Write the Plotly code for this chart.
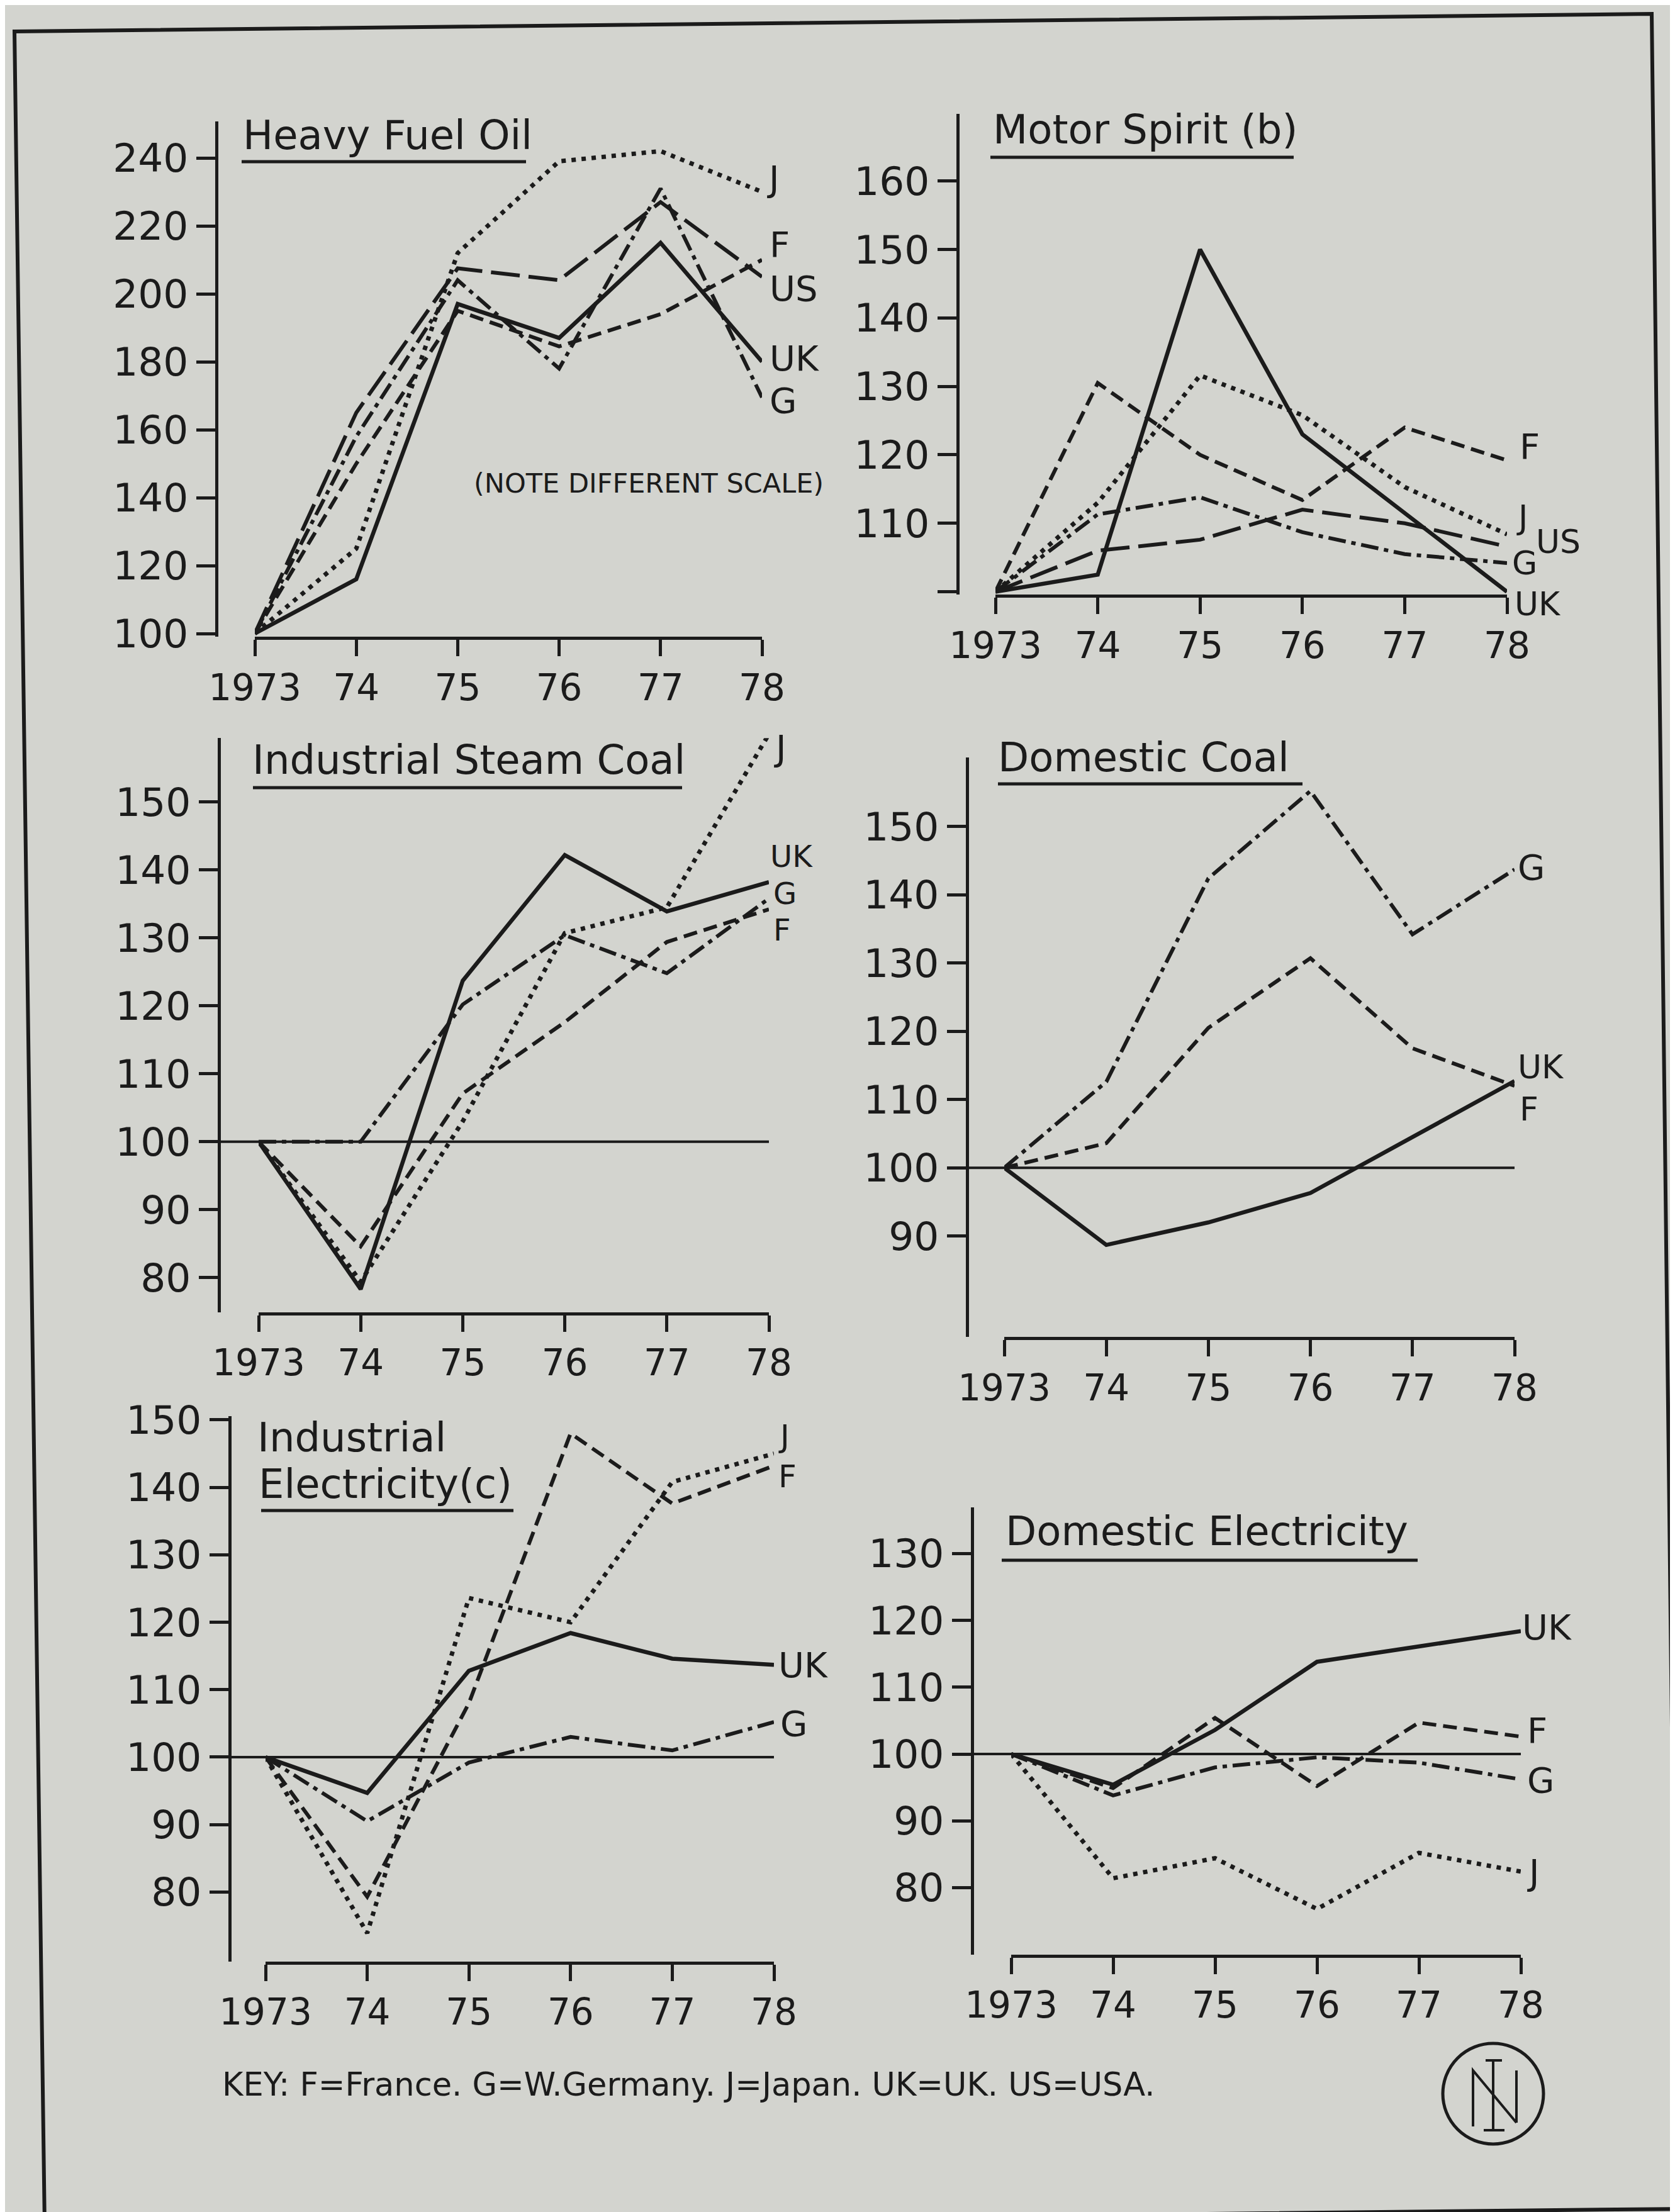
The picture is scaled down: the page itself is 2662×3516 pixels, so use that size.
import plotly.graph_objects as go

W, H = 2662, 3516

# ---------------- data ----------------
YEARS = [1973, 1974, 1975, 1976, 1977, 1978]
YEAR_LABELS = ["1973", "74", "75", "76", "77", "78"]

# Heavy Fuel Oil
hfo_uk = [100, 116, 197, 187, 215, 180]
hfo_j = [100, 125, 212, 239, 242, 230]
hfo_f = [100, 150, 195, 184.5, 194, 210]
hfo_us = [100, 165, 207.5, 204, 227, 205]
hfo_g = [100, 158, 204, 178, 231, 169.5]

# Motor Spirit (b)
ms_uk = [100, 102.5, 150, 123, 111.5, 100]
ms_j = [100, 113, 131.6, 125.8, 115.3, 108.4]
ms_f = [100, 130.5, 120, 113.4, 124, 119.2]
ms_us = [100, 106, 107.6, 112, 110, 106.6]
ms_g = [100, 111.3, 113.8, 108.7, 105.5, 104.2]

# Industrial Steam Coal
isc_uk = [100, 78.3, 123.7, 142.2, 133.9, 138.2]
isc_j = [100, 79.4, 103, 130.7, 134.5, 160]
isc_f = [100, 84.6, 107.1, 117.6, 129.4, 134.2]
isc_g = [100, 100, 120.2, 130.4, 124.8, 135.8]

# Domestic Coal
dc_uk = [100, 88.7, 92, 96.3, 104.5, 112.7]
dc_f = [100, 103.6, 120.5, 130.7, 117.5, 112]
dc_g = [100, 112.6, 142.4, 155.2, 134.2, 143.7]

# Industrial Electricity (c)
ie_uk = [100, 94.7, 112.8, 118.4, 114.6, 113.7]
ie_j = [100, 73.9, 123.6, 120, 140.8, 145]
ie_f = [100, 79.3, 108, 148, 137.6, 143.2]
ie_g = [100, 90.5, 99.2, 103, 101, 105.2]

# Domestic Electricity
de_uk = [100, 95.4, 103.6, 113.8, 116.1, 118.4]
de_f = [100, 94.9, 105.4, 95.2, 104.7, 102.6]
de_g = [100, 93.8, 98, 99.5, 98.7, 96.2]
de_j = [100, 81.4, 84.4, 76.8, 85.2, 82.4]

hfo_ticks = [100, 120, 140, 160, 180, 200, 220, 240]
ms_ticks = [100, 110, 120, 130, 140, 150, 160]
isc_ticks = [80, 90, 100, 110, 120, 130, 140, 150]
dc_ticks = [90, 100, 110, 120, 130, 140, 150]
ie_ticks = [80, 90, 100, 110, 120, 130, 140, 150]
de_ticks = [80, 90, 100, 110, 120, 130]

KEY_TEXT = "KEY: F=France. G=W.Germany. J=Japan. UK=UK. US=USA."

# ---------------- style ----------------
INK = "#1b1b1b"
BG = "#d3d4cf"
FONT = "DejaVu Sans"

STYLE = {
    "UK": dict(dash="solid", width=6.5),
    "J": dict(dash="7px,9px", width=7),
    "F": dict(dash="22px,11px", width=6),
    "US": dict(dash="46px,14px", width=6),
    "G": dict(dash="28px,9px,7px,9px", width=6),
}


def px(x):
    return x / W


def py(y):
    return 1 - y / H


# series entries: (name, values, label level, label x-offset px, label font size)
panels = [
    dict(titles=[("Heavy Fuel Oil", 376, 207)], underline=(376, 828, 249),
         yaxis_x=336, x0=397, x1=1203, vref=100, yref=999, ppu=5.4, vtop=250.8, vbot=99,
         ticks=hfo_ticks, ticklabels=[str(t) for t in hfo_ticks], refline=False,
         series=[("J", hfo_j, 234, 6, 56), ("F", hfo_f, 214.5, 10, 56), ("US", hfo_us, 201.5, 10, 56),
                 ("UK", hfo_uk, 181, 10, 56), ("G", hfo_g, 168.6, 10, 56)]),
    dict(titles=[("Motor Spirit (b)", 1568, 198)], underline=(1566, 2048, 242),
         yaxis_x=1514, x0=1574, x1=2387, vref=100, yref=932.6, ppu=10.88, vtop=169.8, vbot=99.6,
         ticks=ms_ticks, ticklabels=[""] + [str(t) for t in ms_ticks[1:]], refline=False,
         series=[("F", ms_f, 121.2, 18, 56), ("J", ms_j, 110.9, 13, 52), ("US", ms_us, 107.3, 44, 52),
                 ("G", ms_g, 104.2, 6, 52), ("UK", ms_uk, 98.2, 10, 52)]),
    dict(titles=[("Industrial Steam Coal", 391, 1200)], underline=(394, 1076, 1244),
         yaxis_x=340, x0=403, x1=1214, vref=100, yref=1806.8, ppu=10.8, vtop=159.4, vbot=74.9,
         ticks=isc_ticks, ticklabels=[str(t) for t in isc_ticks], refline=True,
         series=[("J", isc_j, 158, 6, 56), ("UK", isc_uk, 142, 0, 48), ("G", isc_g, 136.6, 5, 48),
                 ("F", isc_f, 131.2, 5, 48)]),
    dict(titles=[("Domestic Coal", 1576, 1196)], underline=(1578, 2062, 1238),
         yaxis_x=1529, x0=1588, x1=2399, vref=100, yref=1848.2, ppu=10.85, vtop=160.1, vbot=75.2,
         ticks=dc_ticks, ticklabels=[str(t) for t in dc_ticks], refline=True,
         series=[("G", dc_g, 144, 3, 56), ("UK", dc_uk, 114.8, 3, 52), ("F", dc_f, 108.6, 6, 52)]),
    dict(titles=[("Industrial", 399, 2277), ("Electricity(c)", 401, 2351)], underline=(407, 808, 2393),
         yaxis_x=357, x0=414, x1=1222, vref=100, yref=2785, ppu=10.72, vtop=150.6, vbot=69.7,
         ticks=ie_ticks, ticklabels=[str(t) for t in ie_ticks], refline=True,
         series=[("J", ie_j, 147.6, 5, 50), ("F", ie_f, 141.6, 5, 50), ("UK", ie_uk, 113.7, 5, 56),
                 ("G", ie_g, 105, 8, 56)]),
    dict(titles=[("Domestic Electricity", 1588, 2426)], underline=(1584, 2245, 2472),
         yaxis_x=1537, x0=1599, x1=2409, vref=100, yref=2780, ppu=10.62, vtop=136.9, vbot=70,
         ticks=de_ticks, ticklabels=[str(t) for t in de_ticks], refline=True,
         series=[("UK", de_uk, 119, 0, 56), ("F", de_f, 103.5, 8, 56), ("G", de_g, 96.1, 8, 56),
                 ("J", de_j, 82.3, 8, 56)]),
]

fig = go.Figure()
layout = {}
annotations = []
shapes = []

for i, p in enumerate(panels, start=1):
    xa = "xaxis" if i == 1 else f"xaxis{i}"
    ya = "yaxis" if i == 1 else f"yaxis{i}"
    xr = "x" if i == 1 else f"x{i}"
    yr = "y" if i == 1 else f"y{i}"
    top_px = p["yref"] - (p["vtop"] - p["vref"]) * p["ppu"]
    bot_px = p["yref"] + (p["vref"] - p["vbot"]) * p["ppu"]

    layout[xa] = dict(
        domain=[px(p["x0"]), px(p["x1"])], range=[1973, 1978], anchor=yr,
        showline=True, linecolor=INK, linewidth=5, ticks="outside", ticklen=26,
        tickwidth=5, tickcolor=INK, tickvals=YEARS, ticktext=YEAR_LABELS,
        tickfont=dict(family=FONT, size=58, color=INK), ticklabelstandoff=0,
        showgrid=False, zeroline=False, fixedrange=True, automargin=False,
    )
    layout[ya] = dict(
        domain=[py(bot_px), py(top_px)], range=[p["vbot"], p["vtop"]], anchor="free",
        position=px(p["yaxis_x"]), showline=True, linecolor=INK, linewidth=5,
        ticks="outside", ticklen=30, tickwidth=5, tickcolor=INK,
        tickvals=p["ticks"], ticktext=p["ticklabels"],
        tickfont=dict(family=FONT, size=63, color=INK), ticklabelstandoff=0,
        showgrid=False, zeroline=False, fixedrange=True, automargin=False,
    )

    if p["refline"]:
        shapes.append(dict(type="line", xref="paper", yref=yr, x0=px(p["yaxis_x"]), x1=px(p["x1"]),
                           y0=100, y1=100, line=dict(color=INK, width=4)))

    for name, vals, lab_v, dxp, fs in p["series"]:
        st = STYLE[name]
        fig.add_trace(go.Scatter(x=YEARS, y=vals, mode="lines", xaxis=xr, yaxis=yr,
                                 line=dict(color=INK, width=st["width"], dash=st["dash"]),
                                 showlegend=False, hoverinfo="skip"))
        lab_px = p["yref"] - (lab_v - p["vref"]) * p["ppu"]
        annotations.append(dict(x=px(p["x1"] + dxp), y=py(lab_px), xref="paper", yref="paper",
                                text=name, showarrow=False, xanchor="left", yanchor="middle",
                                font=dict(family=FONT, size=fs, color=INK)))

    for text, tx, ty in p["titles"]:
        annotations.append(dict(x=px(tx), y=py(ty), xref="paper", yref="paper", text=text,
                                showarrow=False, xanchor="left", yanchor="middle",
                                font=dict(family=FONT, size=64, color=INK)))
    ux0, ux1, uy = p["underline"]
    shapes.append(dict(type="line", xref="paper", yref="paper", x0=px(ux0), x1=px(ux1),
                       y0=py(uy), y1=py(uy), line=dict(color=INK, width=5)))

# note
annotations.append(dict(x=px(1023), y=py(760), xref="paper", yref="paper",
                        text="(NOTE DIFFERENT SCALE)", showarrow=False,
                        xanchor="center", yanchor="middle",
                        font=dict(family=FONT, size=43, color=INK)))
# key
annotations.append(dict(x=px(343), y=py(3305), xref="paper", yref="paper", text=KEY_TEXT,
                        showarrow=False, xanchor="left", yanchor="middle",
                        font=dict(family=FONT, size=51, color=INK)))

# frame
frame = (f"M {px(15)},{py(42)} L {px(2617)},{py(14)} L {px(2658)},{py(3503)} "
         f"L {px(63)},{py(3531)} Z")
shapes.append(dict(type="path", xref="paper", yref="paper", path=frame,
                   line=dict(color=INK, width=6)))

# logo
shapes.append(dict(type="circle", xref="paper", yref="paper", x0=px(2285), x1=px(2445),
                   y0=py(3400), y1=py(3240), line=dict(color=INK, width=5)))
n_path = (f"M {px(2333)},{py(3372)} L {px(2333)},{py(3283)} L {px(2402)},{py(3366)} "
          f"M {px(2402)},{py(3366)} L {px(2402)},{py(3283)}")
shapes.append(dict(type="path", xref="paper", yref="paper", path=n_path,
                   line=dict(color=INK, width=4)))
i_path = (f"M {px(2365)},{py(3267)} L {px(2365)},{py(3378)} "
          f"M {px(2353)},{py(3267)} L {px(2379)},{py(3267)} "
          f"M {px(2350)},{py(3378)} L {px(2383)},{py(3378)}")
shapes.append(dict(type="path", xref="paper", yref="paper", path=i_path,
                   line=dict(color=INK, width=4)))

fig.update_layout(
    width=W, height=H, margin=dict(l=0, r=0, t=0, b=0, pad=0, autoexpand=False),
    paper_bgcolor=BG, plot_bgcolor="rgba(0,0,0,0)",
    annotations=annotations, shapes=shapes, showlegend=False,
    font=dict(family=FONT, color=INK),
    **layout,
)

fig.write_html("out.html")
